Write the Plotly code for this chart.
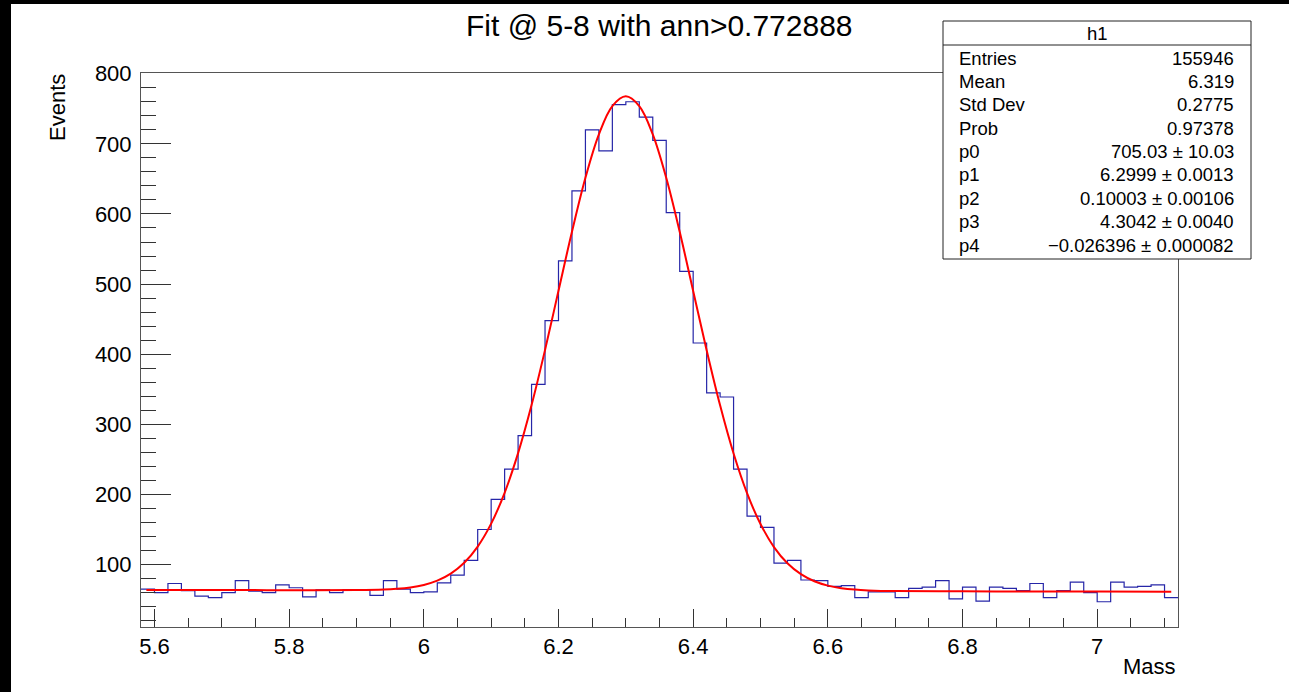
import numpy as np
import plotly.graph_objects as go

# ---------------- data ----------------
bin_low = 5.58
bin_width = 0.02
counts = [65, 60, 73, 63, 55, 53, 60, 77, 62, 60, 71, 67, 54, 64, 60, 64, 64, 56, 77, 65,
          60, 61, 74, 85, 106,
          150, 193, 236, 284, 357, 448, 533, 633, 720, 690, 756, 760, 738, 705, 602, 518,
          416, 345, 339, 236, 169,
          153, 102, 106, 78, 77, 69, 70, 53, 61,
          61, 53, 66, 68, 77, 51, 68, 48, 68, 66, 63, 73, 53, 63, 75, 60, 47, 75, 68, 69,
          71, 53]

fit_x = [5.588, 5.7, 5.8, 5.9, 5.94, 5.96, 5.98, 6.00, 6.02, 6.04, 6.06, 6.08, 6.10,
         6.12, 6.14, 6.16, 6.18, 6.20, 6.22, 6.24, 6.26, 6.28, 6.30, 6.32, 6.34, 6.36,
         6.38, 6.40, 6.42, 6.44, 6.46, 6.48, 6.50, 6.52, 6.54, 6.56, 6.58, 6.60, 6.62,
         6.64, 6.66, 6.70, 6.8, 6.9, 7.0, 7.11]
fit_y = [63.9, 63.7, 63.5, 63.6, 64.3, 65.4, 67.4, 71.0, 77.1, 87.1, 102.6, 125.7, 158.4,
         202.4, 258.9, 327.4, 406.0, 490.4, 574.6, 651.6, 713.5, 753.8, 767.7, 753.7,
         713.4, 651.5, 574.5, 490.2, 405.7, 327.1, 258.4, 201.9, 157.8, 125.0, 101.9,
         86.3, 76.2, 70.0, 66.4, 64.3, 63.2, 62.2, 61.9, 61.7, 61.5, 61.3]

x_tickvals = [5.6, 5.8, 6.0, 6.2, 6.4, 6.6, 6.8, 7.0]
x_ticktext = ["5.6", "5.8", "6", "6.2", "6.4", "6.6", "6.8", "7"]
y_tickvals = [100, 200, 300, 400, 500, 600, 700, 800]
y_ticktext = ["100", "200", "300", "400", "500", "600", "700", "800"]

title_text = "Fit @ 5-8 with ann>0.772888"
x_title = "Mass"
y_title = "Events"

stats_name = "h1"
stats_labels = ["Entries", "Mean", "Std Dev", "Prob", "p0", "p1", "p2", "p3", "p4"]
stats_values = ["155946", "6.319", "0.2775", "0.97378", "705.03 ± 10.03",
                "6.2999 ± 0.0013", "0.10003 ± 0.00106", "4.3042 ± 0.0040",
                "−0.026396 ± 0.000082"]

# ---------------- geometry helpers ----------------
W, H = 1289, 692
L, R, T, B = 141, 1178, 73, 627
PW, PH = R - L, B - T


def px(xp):
    return (xp - L) / PW


def py(yp):
    return (B - yp) / PH


FONT = "Liberation Sans, Arial, Helvetica, sans-serif"

edges = bin_low + bin_width * np.arange(len(counts) + 1)
step_y = list(counts) + [counts[-1]]

fig = go.Figure()
fig.add_trace(go.Scatter(
    x=edges, y=step_y, mode="lines", line=dict(shape="hv", color="#2626a8", width=1.2),
    hoverinfo="skip"))
fig.add_trace(go.Scatter(
    x=fit_x, y=fit_y, mode="lines", line=dict(shape="spline", color="#ff0000", width=2),
    hoverinfo="skip"))

shapes = []
# white canvas (reference has a thin black frame at left and top)
shapes.append(dict(type="rect", xref="paper", yref="paper", layer="below",
                   x0=px(11), x1=px(W + 20), y0=py(H + 20), y1=py(4),
                   fillcolor="white", line=dict(width=0)))
# stats box
box_l, box_r, box_t, box_b = 943, 1251, 21, 259
shapes.append(dict(type="rect", xref="paper", yref="paper", layer="above",
                   x0=px(box_l), x1=px(box_r), y0=py(box_b), y1=py(box_t),
                   fillcolor="white", line=dict(color="#222222", width=1)))
shapes.append(dict(type="line", xref="paper", yref="paper", layer="above",
                   x0=px(box_l), x1=px(box_r), y0=py(45), y1=py(45),
                   line=dict(color="#222222", width=1)))

annotations = []
annotations.append(dict(text=stats_name, xref="paper", yref="paper",
                        x=px((box_l + box_r) / 2), y=py(33), xanchor="center", yanchor="middle",
                        showarrow=False, font=dict(family=FONT, size=18.5, color="black")))
row0, drow = 58, 23.4
for i, (lab, val) in enumerate(zip(stats_labels, stats_values)):
    yy = py(row0 + drow * i)
    annotations.append(dict(text=lab, xref="paper", yref="paper", x=px(957), y=yy,
                            xanchor="left", yanchor="middle", showarrow=False,
                            font=dict(family=FONT, size=18.5, color="black")))
    annotations.append(dict(text=val, xref="paper", yref="paper", x=px(1236), y=yy,
                            xanchor="right", yanchor="middle", showarrow=False,
                            font=dict(family=FONT, size=18.5, color="black")))

annotations.append(dict(text=title_text, xref="paper", yref="paper", x=px(659), y=py(25),
                        xanchor="center", yanchor="middle", showarrow=False,
                        font=dict(family=FONT, size=30, color="black")))
annotations.append(dict(text=y_title, xref="paper", yref="paper", x=px(57.5), y=py(72),
                        xanchor="center", yanchor="top", textangle=-90, showarrow=False,
                        font=dict(family=FONT, size=22, color="black")))
annotations.append(dict(text=x_title, xref="paper", yref="paper", x=px(1178), y=py(666),
                        xanchor="right", yanchor="middle", showarrow=False,
                        font=dict(family=FONT, size=22, color="black")))

fig.update_layout(
    width=W, height=H,
    margin=dict(l=L, r=W - R, t=T, b=H - B, pad=0),
    paper_bgcolor="black", plot_bgcolor="white",
    showlegend=False,
    shapes=shapes, annotations=annotations,
    font=dict(family=FONT, color="black"),
    xaxis=dict(range=[5.58, 7.12], showgrid=False, zeroline=False,
               showline=True, mirror=True, linecolor="#555555", linewidth=1,
               ticks="inside", ticklen=18, tickwidth=1, tickcolor="#333333",
               tickmode="array", tickvals=x_tickvals, ticktext=x_ticktext,
               tickfont=dict(family=FONT, size=22, color="black"),
               minor=dict(ticks="inside", ticklen=9, tickwidth=1, tickcolor="#333333",
                          tickmode="linear", tick0=5.6, dtick=0.05, showgrid=False)),
    yaxis=dict(range=[11, 801], showgrid=False, zeroline=False,
               showline=True, mirror=True, linecolor="#555555", linewidth=1,
               ticks="inside", ticklen=30, tickwidth=1, tickcolor="#333333",
               tickmode="array", tickvals=y_tickvals, ticktext=y_ticktext,
               tickfont=dict(family=FONT, size=22, color="black"),
               ticklabelstandoff=4,
               minor=dict(ticks="inside", ticklen=15, tickwidth=1, tickcolor="#333333",
                          tickmode="linear", tick0=0, dtick=20, showgrid=False)),
)

post = ("document.documentElement.style.margin='0';document.documentElement.style.padding='0';"
        "document.body.style.margin='0';document.body.style.padding='0';"
        "document.body.style.overflow='hidden';document.body.style.background='white';")
fig.write_html("out.html", post_script=post, config={"displayModeBar": False})
